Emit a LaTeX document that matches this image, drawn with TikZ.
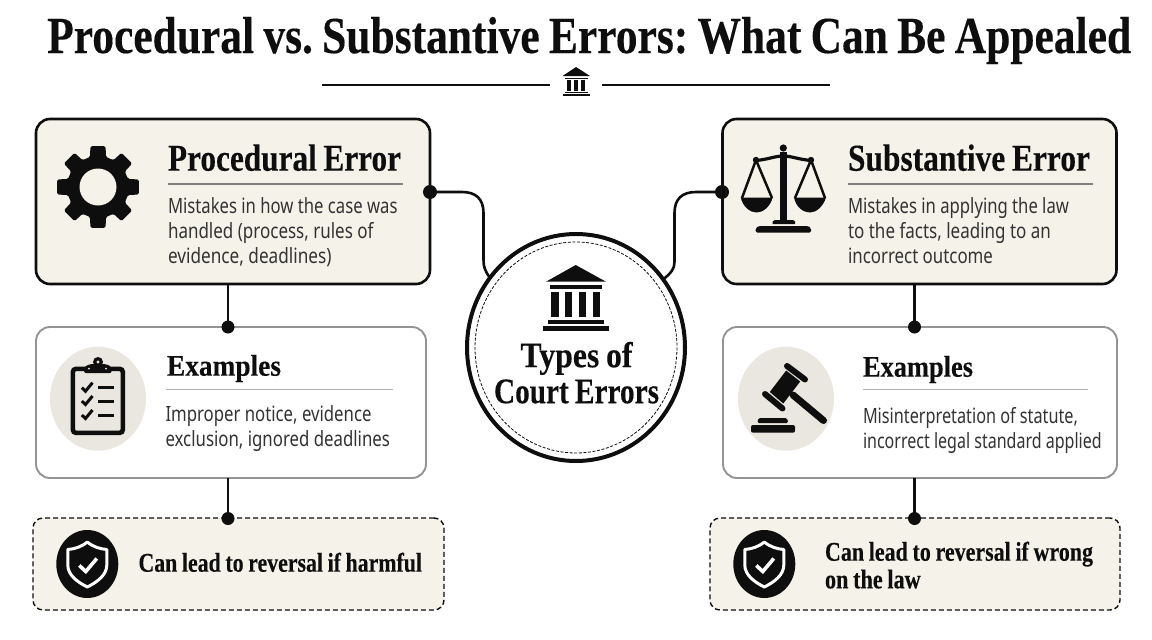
\documentclass[tikz,border=0pt]{standalone}
\usepackage{graphicx}
\usepackage{fontspec}
\setmainfont[WordSpace=0.85,BoldFeatures={FakeBold=0.25}]{Liberation Serif}
\newfontfamily\bodyfont{Noto Sans}
\usetikzlibrary{calc,shapes.geometric}
\definecolor{cream}{HTML}{F5F2EA}
\definecolor{disc}{HTML}{E9E7E0}
\definecolor{ink}{HTML}{0E0E0E}
\definecolor{bodyink}{HTML}{333333}
\newsavebox{\fitbox}
\newcommand{\tline}[3][18pt]{\sbox{\fitbox}{\frenchspacing #3}\pgfmathsetmacro{\fitr}{#2/\the\wd\fitbox}\rule{0pt}{#1}\rule[-7pt]{0pt}{7pt}\scalebox{\fitr}[1]{\usebox{\fitbox}}}
\tikzset{
  x=1pt,y=-1pt,
  mainbox/.style={draw=ink,line width=2.6pt,fill=cream,rounded corners=14pt,inner sep=0pt,outer sep=0pt},
  exbox/.style={draw=black!42,line width=1.9pt,fill=white,rounded corners=14pt,inner sep=0pt,outer sep=0pt},
  dashbox/.style={draw=ink,line width=1.4pt,dash pattern=on 5pt off 3pt,fill=cream,rounded corners=10pt,inner sep=0pt,outer sep=0pt},
  core/.style={ellipse,draw=ink,line width=4pt,fill=white,inner sep=0pt,outer sep=0pt,minimum width=218pt,minimum height=227pt},
  dot/.style={circle,fill=ink,inner sep=0pt,outer sep=0pt,minimum size=#1},
  dot/.default=14pt,
  link/.style={draw=ink,line width=2.6pt},
  headtxt/.style={anchor=base west,inner sep=0pt,outer sep=0pt,text=ink,font=\bfseries\fontsize{38}{38}\selectfont},
  subtxt/.style={anchor=base west,inner sep=0pt,outer sep=0pt,text=ink,font=\bfseries\fontsize{30}{30}\selectfont},
  noticetxt/.style={anchor=north west,inner sep=0pt,outer sep=0pt,align=left,text=ink,font=\bfseries\fontsize{27}{27.6}\selectfont},
  bodytxt/.style={anchor=north west,inner sep=0pt,outer sep=0pt,align=left,text=bodyink,font=\bodyfont\fontsize{21}{25}\selectfont},
  rulea/.style={draw=black!50,line width=1.4pt},
  ruleb/.style={draw=black!30,line width=1pt},
  icon/.style={fill=ink,draw=none},
}
\begin{document}
\begin{tikzpicture}
\useasboundingbox (0,0) rectangle (1152,640);
\fill[white] (0,0) rectangle (1152,640);

% title
\node[anchor=base west,inner sep=0pt,text=ink,font=\bfseries\fontsize{52}{52}\selectfont] (title) at (47,53) {\tline{1084}{Procedural vs. Substantive Errors: What Can Be Appealed}};
\coordinate (ruleLa) at (322,85);\coordinate (ruleLb) at (550,85);
\coordinate (ruleRa) at (602,85);\coordinate (ruleRb) at (830,85);
\draw[draw=ink,line width=1.7pt] (ruleLa) -- (ruleLb);
\draw[draw=ink,line width=1.7pt] (ruleRa) -- (ruleRb);
% header temple
\fill[icon] (576,67) -- (590,76) -- (562.5,76) -- cycle;
\fill[icon] (565,77.5) rectangle (587.5,79);
\foreach \c in {569,576,583}{\fill[icon] (\c-2.2,80) rectangle (\c+2.2,91);}
\fill[icon] (565,91.5) rectangle (587.5,93);
\fill[icon] (563,93.5) rectangle (590,96);

% boxes
\node[mainbox,minimum width=394pt,minimum height=165pt] (proc) at (233,201.5) {};
\node[mainbox,minimum width=394pt,minimum height=165pt] (subst) at (919.5,201.5) {};
\node[exbox,minimum width=390pt,minimum height=151pt] (exL) at (231,402.5) {};
\node[exbox,minimum width=394pt,minimum height=151pt] (exR) at (920,402.5) {};
\node[dashbox,minimum width=411pt,minimum height=92pt] (conL) at (238.5,564) {};
\node[dashbox,minimum width=410pt,minimum height=92pt] (conR) at (915,564) {};
\node[core] (hub) at (576,347.5) {};
\draw[draw=ink,line width=.8pt,dash pattern=on 3pt off 1.6pt] (hub.center) ellipse[x radius=101,y radius=105.5];

% dots
\node[dot] (dPr) at (430,192) {};
\node[dot] (dSu) at (722,192) {};
\node[dot=13pt] (dLa) at (228,327) {};
\node[dot=13pt] (dLb) at (228,518.5) {};
\node[dot=13pt] (dRa) at (914.5,327) {};
\node[dot=13pt] (dRb) at (914.5,518.5) {};

% connectors
\draw[link] (dPr.center) -- (462,192) .. controls (476,192) and (483.5,199) .. (483.5,213) -- (483.5,260) .. controls (483.5,267) and (485,271) .. (hub.141);
\draw[link] (dSu.center) -- (696,192) .. controls (682,192) and (674.5,199) .. (674.5,213) -- (674.5,262) .. controls (674.5,269) and (671,273) .. (hub.38);
\draw[link] (dLa |- proc.south) -- (dLa.center);
\draw[link] (dLa |- exL.south) -- (dLb.center);
\draw[link] (dRa |- subst.south) -- (dRa.center);
\draw[link] (dRa |- exR.south) -- (dRb.center);

% hub temple + text
\fill[icon] (575.7,265) -- (606,281.7) -- (546,281.7) -- cycle;
\fill[icon] (550,285) rectangle (602.3,289.3);
\foreach \c in {554.7,568.5,582.3,596.5}{\fill[icon] (\c-3.8,291.7) rectangle (\c+3.8,317.3);}
\fill[icon] (547.7,320) rectangle (604,324);
\fill[icon] (542.7,326) rectangle (609,331);
\node[anchor=north,inner sep=0pt,align=center,text=ink,font=\bfseries\fontsize{36}{36}\selectfont] (hubtxt) at (576.5,339)
 {\tline[28pt]{112}{Types of}\\\tline[28pt]{165}{Court Errors}};

% procedural text
\node[headtxt] (t1) at (168,170.7) {\tline{233}{Procedural Error}};
\coordinate (r1a) at (168,184);\coordinate (r1b) at (403,184);
\draw[rulea] (r1a) -- (r1b);
\node[bodytxt] (b1) at (168,195) {\tline{229.5}{Mistakes in how the case was}\\\tline{205.5}{handled (process, rules of}\\\tline{163.5}{evidence, deadlines)}};

% substantive text
\node[headtxt] (t2) at (848,170.7) {\tline{242}{Substantive Error}};
\coordinate (r2a) at (848,184);\coordinate (r2b) at (1093,184);
\draw[rulea] (r2a) -- (r2b);
\node[bodytxt] (b2) at (848,195) {\tline{221}{Mistakes in applying the law}\\\tline{203}{to the facts, leading to an}\\\tline{145}{incorrect outcome}};

% examples
\node[subtxt] (t3) at (167,375.7) {\tline{114}{Examples}};
\coordinate (r3a) at (166,389.7);\coordinate (r3b) at (393,389.7);
\draw[ruleb] (r3a) -- (r3b);
\node[bodytxt] (b3) at (165.5,403.7) {\tline{206}{Improper notice, evidence}\\\tline{224.5}{exclusion, ignored deadlines}};

\node[subtxt] (t4) at (863,376.7) {\tline{110}{Examples}};
\coordinate (r4a) at (863,389.7);\coordinate (r4b) at (1088,389.7);
\draw[ruleb] (r4a) -- (r4b);
\node[bodytxt] (b4) at (863,405) {\tline{215}{Misinterpretation of statute,}\\\tline{238.7}{incorrect legal standard applied}};

% notices
\node[noticetxt,anchor=base west] (n1) at (138.5,571.7) {\tline[20pt]{283.5}{Can lead to reversal if harmful}};
\node[noticetxt] (n2) at (825,540.7) {\tline[20pt]{268}{Can lead to reversal if wrong}\\\tline[20pt]{95.7}{on the law}};

% gear
\begin{scope}[shift={(98,187)}]
\fill[icon,even odd rule,rounded corners=1.5pt]
  (-15:31) \foreach \a in {0,45,...,315}{ -- (\a-15:31) -- (\a-10.5:41.5) -- (\a+10.5:41.5) -- (\a+15:31)} -- cycle;
\fill[cream] (0,0) circle[radius=18.5];
\end{scope}

% scales
\begin{scope}
\fill[icon] (779.8,152) rectangle (786.8,221);
\fill[icon] (783.3,148) circle[radius=3.6];
\draw[draw=ink,line width=3.2pt] (756,160.5) .. controls (768,159.5) and (775,156) .. (783.3,156) .. controls (791,156) and (799,159.5) .. (811,160.5);
\fill[icon] (756,160) circle[radius=3.2];
\fill[icon] (811,160) circle[radius=3.2];
\draw[draw=ink,line width=2.5pt,line join=round] (742,198) -- (756,160) -- (772,198);
\draw[draw=ink,line width=2.5pt,line join=round] (795,198) -- (811,160) -- (825,198);
\fill[icon] (740.7,197.5) .. controls (743,207) and (750,212.5) .. (756.7,212.5) .. controls (763,212.5) and (770,207) .. (772.7,197.5) -- cycle;
\fill[icon] (794,197.5) .. controls (796,207) and (803,212.5) .. (810,212.5) .. controls (816,212.5) and (823,207) .. (826,197.5) -- cycle;
\fill[icon] (772.7,224) -- (772.7,221.5) -- (775,220) -- (793,220) -- (795,221.5) -- (795,224) -- cycle;
\fill[icon,rounded corners=1.5pt] (755.7,232.7) -- (755.7,228) -- (759,226) -- (808,226) -- (811,228) -- (811,232.7) -- cycle;
\end{scope}

% clipboard
\fill[disc] (98,398.7) ellipse[x radius=48,y radius=52];
\draw[draw=ink,line width=4.6pt,rounded corners=3pt] (72.9,368.9) rectangle (122.8,432.8);
\fill[icon,rounded corners=2pt] (84,373) -- (84,367) -- (90,364) -- (106,364) -- (111.7,367) -- (111.7,373) -- cycle;
\fill[icon] (98,362) circle[radius=5];
\fill[disc] (98,362) circle[radius=1.6];
\fill[disc] (89,368.5) circle[radius=1];
\fill[disc] (106,368.5) circle[radius=1];
\foreach \yy in {387.7,401,415}{
  \draw[draw=ink,line width=3pt] (81.8,\yy) -- (85.5,\yy+3.5) -- (92.5,\yy-5);
  \draw[draw=ink,line width=3pt] (98,\yy) -- (114,\yy);
}

% gavel
\fill[disc] (786,398.7) ellipse[x radius=48,y radius=52];
\draw[draw=ink,line width=6pt,line cap=round] (787,366) -- (805,379.5);
\draw[draw=ink,line width=6pt,line cap=round] (765,394) -- (782.5,408.5);
\fill[icon] (786.2,370.5) -- (800.2,381.5) -- (783.3,403.5) -- (769.8,392) -- cycle;
\draw[draw=ink,line width=7pt,line cap=round] (793,395) -- (823.5,420.5);
\fill[icon,rounded corners=1.5pt] (757.3,423) -- (758.5,418) -- (787,418) -- (788.3,423) -- cycle;
\fill[icon,rounded corners=2pt] (751,432.7) rectangle (795,425);

% shields
\foreach \cx in {87.3,764.3}{
\begin{scope}[shift={(\cx,564)}]
\fill[icon] (0,0) ellipse[x radius=31,y radius=34];
\draw[draw=white,line width=3pt,line join=round] (0,-22) .. controls (6,-17) and (13,-15) .. (19.5,-14.5) -- (19.5,1) .. controls (19.5,11) and (10,18) .. (0,23) .. controls (-10,18) and (-19.5,11) .. (-19.5,1) -- (-19.5,-14.5) .. controls (-13,-15) and (-6,-17) .. (0,-22) -- cycle;
\draw[draw=white,line width=3.6pt] (-8,1.5) -- (-1.5,7.5) -- (9.5,-5.5);
\end{scope}
}
\end{tikzpicture}
\end{document}
